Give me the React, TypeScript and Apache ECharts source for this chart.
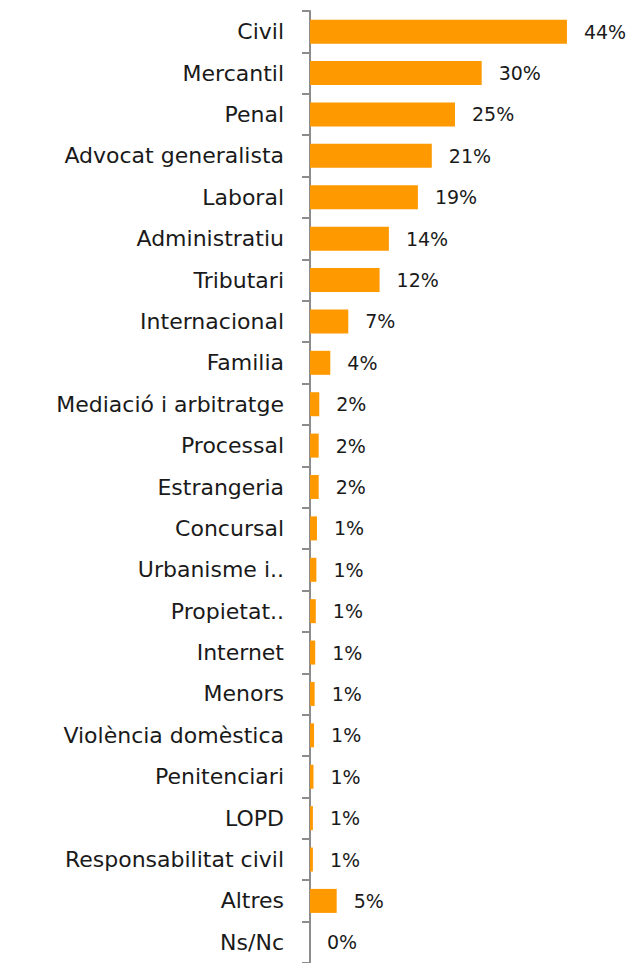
import React, { useEffect, useRef } from "react";
import * as echarts from "echarts";

const categories = [
  "Civil", "Mercantil", "Penal", "Advocat generalista", "Laboral", "Administratiu",
  "Tributari", "Internacional", "Familia", "Mediació i arbitratge", "Processal",
  "Estrangeria", "Concursal", "Urbanisme i..", "Propietat..", "Internet", "Menors",
  "Violència domèstica", "Penitenciari", "LOPD", "Responsabilitat civil", "Altres", "Ns/Nc",
];
const values = [
  44.3, 29.6, 25.0, 21.0, 18.6, 13.6, 12.0, 6.6, 3.5, 1.6, 1.5, 1.5, 1.2, 1.1, 1.0,
  0.9, 0.8, 0.7, 0.6, 0.5, 0.5, 4.6, 0,
];

const FONT = "'DejaVu Sans', sans-serif";

export default function App() {
  const ref = useRef<HTMLDivElement>(null);
  useEffect(() => {
    document.body.style.margin = "0";
    const chart = echarts.init(ref.current!, null, { renderer: "svg" });
    chart.setOption({
      animation: false,
      grid: { left: 310, top: 11, width: 290, height: 954.5, containLabel: false },
      xAxis: {
        type: "value", min: 0, max: 50, show: false,
      },
      yAxis: {
        type: "category", data: categories, inverse: true,
        axisLine: { show: true, lineStyle: { color: "#8c8c8c", width: 2 } },
        axisTick: { show: true, length: 8, lineStyle: { color: "#8c8c8c", width: 2 } },
        axisLabel: { margin: 26, fontSize: 22, color: "#1a1a1a", fontFamily: FONT },
        splitLine: { show: false },
      },
      series: [{
        type: "bar", data: values, barCategoryGap: "42%",
        itemStyle: { color: "#FF9900" },
        label: {
          show: true, position: "right", distance: 17, fontSize: 19, color: "#1a1a1a",
          fontFamily: FONT,
          formatter: (p: any) => Math.round(p.value) + "%",
        },
      }],
    });
    return () => chart.dispose();
  }, []);
  return <div ref={ref} style={{ width: 634, height: 963 }} />;
}
